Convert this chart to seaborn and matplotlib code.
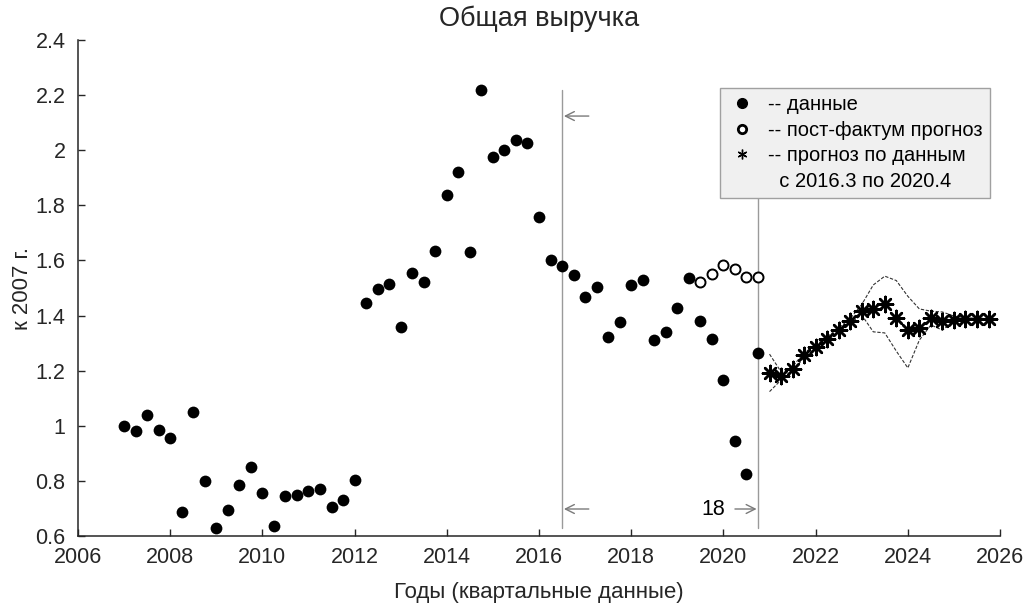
import numpy as np
import pandas as pd
import matplotlib
matplotlib.use("Agg")
import matplotlib.pyplot as plt
from matplotlib.lines import Line2D
from matplotlib.ticker import FuncFormatter, MultipleLocator
import seaborn as sns

# Quarterly revenue, relative to 2007
obs_quarters = np.arange(2007.0, 2021.0, 0.25)
revenue = [1.00, 0.98, 1.04, 0.985,
           0.955, 0.687, 1.05, 0.80,
           0.63, 0.694, 0.785, 0.85,
           0.756, 0.636, 0.745, 0.749,
           0.763, 0.771, 0.705, 0.731,
           0.803, 1.445, 1.497, 1.513,
           1.359, 1.553, 1.523, 1.635,
           1.836, 1.921, 1.632, 2.217,
           1.974, 2.000, 2.037, 2.025,
           1.759, 1.601, 1.580, 1.547,
           1.466, 1.505, 1.322, 1.378,
           1.511, 1.530, 1.310, 1.339,
           1.426, 1.536, 1.381, 1.316,
           1.167, 0.945, 0.825, 1.264]

# Post-factum forecast for the last quarters of the sample
post_quarters = np.arange(2019.5, 2021.0, 0.25)
post_forecast = [1.522, 1.551, 1.584, 1.568, 1.539, 1.541]

# Forecast built on 2016.3 - 2020.4 data, with its band
fc_quarters = np.arange(2021.0, 2026.0, 0.25)
forecast = [1.190, 1.181, 1.205, 1.257, 1.285, 1.315, 1.347, 1.381, 1.416, 1.423,
            1.441, 1.390, 1.347, 1.354, 1.390, 1.379, 1.384, 1.387, 1.387, 1.387]
fc_upper = [1.260, 1.196, 1.215, 1.265, 1.293, 1.323, 1.355, 1.389, 1.440, 1.511,
            1.543, 1.527, 1.470, 1.424, 1.416, 1.413, 1.398, 1.392, 1.390, 1.390]
fc_lower = [1.124, 1.166, 1.196, 1.249, 1.277, 1.307, 1.339, 1.373, 1.402, 1.341,
            1.337, 1.271, 1.210, 1.311, 1.366, 1.347, 1.380, 1.382, 1.384, 1.384]

window_start, window_end = 2016.5, 2020.75
window_len = 18

obs = pd.DataFrame({"t": obs_quarters, "v": revenue})
post = pd.DataFrame({"t": post_quarters, "v": post_forecast})
fc = pd.DataFrame({"t": fc_quarters, "v": forecast, "hi": fc_upper, "lo": fc_lower})

sns.set_theme(style="ticks")
plt.rcParams["font.family"] = ["Liberation Sans", "DejaVu Sans"]
axis_color = "#262626"
plt.rcParams.update({
    "axes.edgecolor": axis_color,
    "xtick.color": axis_color,
    "ytick.color": axis_color,
    "text.color": axis_color,
    "axes.labelcolor": axis_color,
})

fig = plt.figure(figsize=(10.26, 6.06), dpi=100)
ax = fig.add_axes([0.076, 0.1155, 0.8987, 0.8185])

# Boundaries of the estimation window
for xv in (window_start, window_end):
    ax.plot([xv, xv], [0.629, 2.218], color="#9a9a9a", lw=1.0, zorder=1)

# Forecast band
sns.lineplot(data=fc, x="t", y="hi", ax=ax, color="#333333", lw=0.8,
             linestyle=(0, (3, 1.5)), estimator=None, sort=False, zorder=2)
sns.lineplot(data=fc, x="t", y="lo", ax=ax, color="#333333", lw=0.8,
             linestyle=(0, (3, 1.5)), estimator=None, sort=False, zorder=2)

sns.scatterplot(data=obs, x="t", y="v", ax=ax, color="black", marker="o",
                s=72, linewidth=0, zorder=4)
sns.scatterplot(data=post, x="t", y="v", ax=ax, facecolor="white",
                edgecolor="black", marker="o", s=52, linewidth=1.4, zorder=4)
sns.scatterplot(data=fc, x="t", y="v", ax=ax, color="black", marker=(8, 2, 0),
                s=120, linewidth=1.8, edgecolor="black", zorder=4)

# Window markers
arrow_kw = dict(arrowstyle="->", color="#7a7a7a", lw=1.0, mutation_scale=16,
                shrinkA=0, shrinkB=0)
ax.annotate("", xy=(window_start + 0.04, 2.124), xytext=(window_start + 0.58, 2.124),
            arrowprops=arrow_kw)
ax.annotate("", xy=(window_start + 0.04, 0.698), xytext=(window_start + 0.58, 0.698),
            arrowprops=arrow_kw)
ax.annotate("", xy=(window_end - 0.03, 0.698), xytext=(window_end - 0.5, 0.698),
            arrowprops=arrow_kw)
ax.text(window_end - 0.72, 0.698, str(window_len), ha="right", va="center",
        fontsize=15.5, color="black")

ax.set_xlim(2006, 2026)
ax.set_ylim(0.6, 2.4)
ax.xaxis.set_major_locator(MultipleLocator(2))
ax.yaxis.set_major_locator(MultipleLocator(0.2))
ax.yaxis.set_major_formatter(FuncFormatter(lambda v, p: f"{v:g}"))
ax.tick_params(direction="in", length=5, width=1, labelsize=15.5)
ax.tick_params(axis="x", pad=8)
ax.tick_params(axis="y", pad=9)
for s in ("top", "right"):
    ax.spines[s].set_visible(False)
for s in ("left", "bottom"):
    ax.spines[s].set_linewidth(1.1)

ax.set_title("Общая выручка", fontsize=19.5, pad=10)
ax.set_xlabel("Годы (квартальные данные)", fontsize=16, labelpad=10)
ax.set_ylabel("к 2007 г.", fontsize=16, labelpad=2)

handles = [
    Line2D([], [], ls="none", marker="o", color="black", markersize=7),
    Line2D([], [], ls="none", marker="o", markerfacecolor="white",
           markeredgecolor="black", markeredgewidth=2, markersize=6),
    Line2D([], [], ls="none", marker=(6, 2, 0), color="black",
           markersize=7, markeredgewidth=1),
    Line2D([], [], ls="none"),
]
labels = ["-- данные", "-- пост-фактум прогноз", "-- прогноз по данным",
          "  с 2016.3 по 2020.4"]
leg = ax.legend(handles, labels, loc="upper right", bbox_to_anchor=(0.989, 0.903),
                borderaxespad=0, fontsize=14.5, frameon=True, fancybox=False,
                handlelength=1.5, handletextpad=0.55, labelspacing=0.33,
                borderpad=0.35, framealpha=1)
leg.get_frame().set_facecolor("#f0f0f0")
leg.get_frame().set_edgecolor("#a0a0a0")
leg.get_frame().set_linewidth(1.0)
for t in leg.get_texts():
    t.set_color("black")
leg.set_zorder(5)

fig.savefig("out.png", dpi=100, facecolor="white")
